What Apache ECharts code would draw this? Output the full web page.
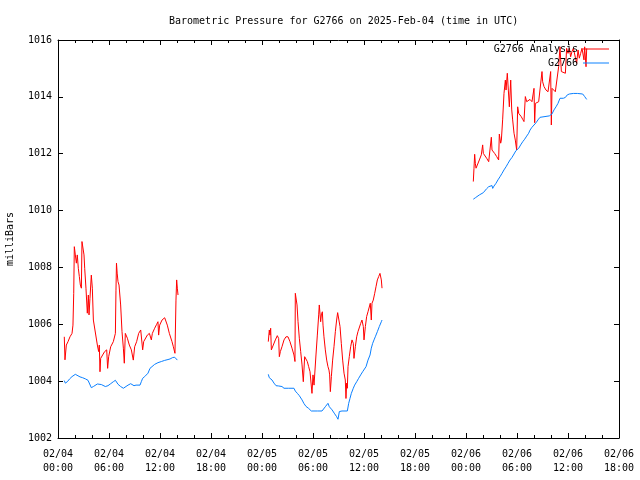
<!DOCTYPE html>
<html>
<head>
<meta charset="utf-8">
<script src="https://cdn.jsdelivr.net/npm/echarts@6/dist/echarts.min.js"></script>
<style>
html,body{margin:0;padding:0;background:#fff;}
#chart{width:640px;height:480px;}
</style>
</head>
<body>
<div id="chart"></div>
<script>
// Hours since 2025-02-04 00:00 UTC, pressure in mb
var xTickLabels = ['02/04\n00:00','02/04\n06:00','02/04\n12:00','02/04\n18:00','02/05\n00:00','02/05\n06:00','02/05\n12:00','02/05\n18:00','02/06\n00:00','02/06\n06:00','02/06\n12:00','02/06\n18:00'];
var yTicks = [1002,1004,1006,1008,1010,1012,1014,1016];

var analysis1 = [[0.74,1005.56],[0.82,1004.75],[0.98,1005.27],[1.18,1005.39],[1.41,1005.56],[1.65,1005.68],[1.76,1005.97],[1.85,1007.09],[1.92,1008.73],[2.04,1008.44],[2.16,1008.15],[2.27,1008.44],[2.39,1007.97],[2.51,1007.68],[2.63,1007.38],[2.75,1007.27],[2.82,1008.91],[2.98,1008.91],[3.06,1008.44],[3.14,1007.97],[3.29,1007.27],[3.45,1006.39],[3.57,1007.03],[3.65,1006.33],[3.76,1006.91],[3.92,1007.73],[4.04,1007.27],[4.16,1006.15],[4.39,1006.09],[4.63,1005.27],[4.78,1005.04],[4.86,1005.27],[4.94,1004.33],[5.02,1004.80],[5.25,1004.92],[5.49,1005.04],[5.73,1005.10],[5.84,1004.45],[5.96,1004.86],[6.2,1005.21],[6.51,1005.39],[6.75,1005.68],[6.82,1007.2],[6.88,1008.15],[6.96,1007.8],[7.06,1007.5],[7.18,1007.38],[7.37,1006.68],[7.53,1005.74],[7.69,1005.16],[7.8,1004.63],[7.92,1005.68],[8.16,1005.51],[8.39,1005.27],[8.63,1005.10],[8.78,1005.04],[8.86,1004.74],[9.02,1005.21],[9.25,1005.39],[9.49,1005.68],[9.73,1005.80],[9.88,1005.80],[9.96,1005.10],[10.08,1005.39],[10.27,1005.45],[10.51,1005.62],[10.75,1005.68],[10.9,1005.72],[10.98,1005.45],[11.1,1005.68],[11.37,1005.86],[11.61,1006.0],[11.76,1006.09],[11.84,1005.62],[11.96,1005.97],[12.24,1006.15],[12.55,1006.23],[12.75,1006.27],[12.86,1005.97],[12.98,1006.03],[13.1,1005.68],[13.25,1005.62],[13.41,1005.39],[13.57,1005.21],[13.76,1004.98],[13.88,1006.85],[13.96,1007.56],[14.04,1007.27],[14.12,1007.03]];
var analysis2 = [[24.74,1005.39],[24.86,1005.80],[24.94,1005.62],[25.02,1005.86],[25.1,1005.10],[25.33,1005.27],[25.57,1005.45],[25.8,1005.60],[25.96,1005.5],[26.04,1004.86],[26.16,1005.04],[26.35,1005.21],[26.59,1005.45],[26.82,1005.56],[27.06,1005.56],[27.29,1005.39],[27.53,1005.16],[27.76,1004.92],[27.88,1004.69],[27.92,1007.09],[28.08,1007.09],[28.12,1006.68],[28.24,1006.09],[28.39,1005.51],[28.55,1005.04],[28.71,1004.57],[28.86,1003.98],[29.02,1004.86],[29.18,1004.86],[29.33,1004.69],[29.49,1004.51],[29.65,1004.33],[29.8,1004.27],[29.88,1003.57],[30.0,1004.22],[30.12,1003.86],[30.35,1004.92],[30.51,1005.62],[30.67,1006.33],[30.74,1006.68],[30.9,1006.09],[30.98,1006.33],[31.1,1006.44],[31.18,1005.97],[31.29,1005.56],[31.45,1005.10],[31.61,1004.74],[31.76,1004.51],[31.88,1004.39],[31.96,1004.22],[32.04,1003.63],[32.16,1004.16],[32.31,1004.74],[32.47,1005.21],[32.63,1005.74],[32.78,1006.15],[32.9,1006.41],[33.06,1006.41],[33.18,1005.92],[33.33,1005.33],[33.49,1004.74],[33.65,1004.28],[33.8,1004.04],[33.88,1003.39],[33.96,1003.93],[34.04,1003.75],[34.12,1004.51],[34.27,1004.86],[34.43,1005.21],[34.59,1005.45],[34.74,1005.33],[34.82,1004.8],[34.98,1005.21],[35.14,1005.56],[35.29,1005.74],[35.45,1005.80],[35.61,1006.03],[35.76,1006.15],[35.92,1005.92],[36.0,1005.45],[36.16,1005.92],[36.31,1006.27],[36.47,1006.44],[36.63,1006.5],[36.74,1006.74],[36.86,1006.15],[36.94,1006.74],[37.09,1006.85],[37.26,1007.09],[37.41,1007.32],[37.57,1007.56],[37.73,1007.68],[37.88,1007.79],[38.04,1007.56],[38.12,1007.27]];
var analysis3 = [[48.86,1011.02],[48.94,1011.49],[49.02,1011.98],[49.1,1011.66],[49.18,1011.49],[49.33,1011.60],[49.57,1011.78],[49.8,1011.96],[49.96,1012.31],[50.04,1012.01],[50.2,1011.96],[50.43,1011.84],[50.67,1011.72],[50.82,1011.69],[50.98,1012.58],[51.06,1012.13],[51.22,1012.13],[51.37,1012.01],[51.61,1011.90],[51.84,1011.78],[51.92,1012.69],[52.08,1012.37],[52.16,1012.48],[52.31,1013.19],[52.47,1014.12],[52.63,1014.59],[52.71,1014.24],[52.86,1014.83],[52.98,1014.24],[53.1,1013.65],[53.26,1014.59],[53.38,1013.54],[53.49,1013.19],[53.65,1012.72],[53.8,1012.48],[53.96,1012.13],[54.08,1013.65],[54.2,1013.42],[54.35,1013.42],[54.51,1013.30],[54.67,1013.21],[54.82,1013.13],[54.98,1014.01],[55.14,1013.83],[55.29,1013.89],[55.53,1013.91],[55.76,1013.83],[56.0,1014.30],[56.08,1013.09],[56.16,1013.77],[56.31,1013.8],[56.55,1013.83],[56.78,1013.83],[56.94,1014.89],[57.02,1014.53],[57.18,1014.36],[57.41,1014.24],[57.65,1014.18],[57.8,1014.24],[57.96,1014.89],[58.04,1013.01],[58.12,1014.30],[58.27,1014.24],[58.51,1014.18],[58.74,1014.24],[58.9,1015.06],[59.06,1015.76],[59.14,1015.30],[59.22,1014.89],[59.45,1014.83],[59.69,1014.83],[59.84,1015.71],[60.0,1015.53],[60.16,1015.71],[60.31,1015.41],[60.47,1015.59],[60.63,1015.71],[60.8,1015.71],[61.02,1015.18],[61.18,1015.65],[61.33,1015.36],[61.49,1015.53],[61.65,1015.71],[61.88,1015.30],[61.96,1015.76],[62.04,1015.7],[62.12,1015.06],[62.2,1015.7]];

var obs1 = [[0.74,1004.02],[0.86,1003.93],[1.1,1003.98],[1.37,1004.08],[1.65,1004.16],[1.88,1004.19],[2.04,1004.24],[2.27,1004.19],[2.59,1004.15],[2.9,1004.12],[3.22,1004.08],[3.53,1004.03],[3.76,1003.98],[3.92,1003.77],[4.16,1003.81],[4.39,1003.86],[4.63,1003.90],[4.86,1003.86],[5.1,1003.88],[5.33,1003.84],[5.57,1003.81],[5.88,1003.84],[6.2,1003.91],[6.51,1003.98],[6.75,1004.03],[6.9,1003.96],[7.06,1003.89],[7.37,1003.81],[7.69,1003.75],[7.92,1003.81],[8.24,1003.86],[8.55,1003.91],[8.78,1003.93],[8.94,1003.84],[9.18,1003.86],[9.41,1003.88],[9.65,1003.86],[9.8,1003.98],[9.96,1004.1],[10.2,1004.16],[10.59,1004.28],[10.82,1004.45],[10.98,1004.51],[11.37,1004.59],[11.76,1004.65],[12.16,1004.69],[12.55,1004.73],[12.78,1004.78],[12.94,1004.76],[13.18,1004.78],[13.49,1004.83],[13.73,1004.84],[13.88,1004.83],[14.04,1004.74]];
var obs2 = [[24.74,1004.24],[24.86,1004.12],[25.02,1004.10],[25.18,1004.04],[25.41,1003.93],[25.65,1003.84],[25.96,1003.83],[26.35,1003.81],[26.59,1003.75],[27.14,1003.75],[27.76,1003.75],[27.92,1003.65],[28.16,1003.57],[28.39,1003.49],[28.71,1003.34],[28.94,1003.21],[29.18,1003.11],[29.49,1003.04],[29.8,1002.95],[30.51,1002.95],[31.06,1002.95],[31.22,1003.02],[31.45,1003.10],[31.76,1003.22],[31.92,1003.10],[32.24,1002.99],[32.55,1002.85],[32.78,1002.75],[32.94,1002.66],[33.1,1002.93],[33.41,1002.95],[34.04,1002.95],[34.2,1003.22],[34.35,1003.39],[34.51,1003.57],[34.74,1003.75],[34.9,1003.86],[35.14,1003.98],[35.37,1004.10],[35.61,1004.22],[35.84,1004.33],[36.0,1004.39],[36.24,1004.51],[36.47,1004.74],[36.71,1004.92],[36.86,1005.16],[37.02,1005.33],[37.18,1005.45],[37.33,1005.56],[37.57,1005.74],[37.8,1005.92],[38.04,1006.09],[38.12,1006.15]];
var obs3 = [[48.86,1010.40],[49.1,1010.45],[49.33,1010.51],[49.57,1010.55],[49.8,1010.57],[50.04,1010.63],[50.2,1010.70],[50.43,1010.77],[50.67,1010.84],[50.9,1010.88],[51.06,1010.88],[51.14,1010.78],[51.29,1010.86],[51.53,1010.96],[51.76,1011.08],[52.0,1011.19],[52.24,1011.31],[52.47,1011.43],[52.71,1011.54],[52.94,1011.66],[53.18,1011.78],[53.41,1011.87],[53.65,1011.99],[53.88,1012.11],[54.04,1012.11],[54.2,1012.19],[54.43,1012.31],[54.67,1012.42],[54.9,1012.51],[55.14,1012.62],[55.37,1012.72],[55.53,1012.83],[55.76,1012.93],[56.0,1013.01],[56.24,1013.09],[56.47,1013.19],[56.71,1013.28],[56.94,1013.33],[57.8,1013.33],[57.96,1013.31],[58.12,1013.40],[58.35,1013.54],[58.59,1013.65],[58.82,1013.77],[59.06,1013.95],[59.22,1014.01],[59.45,1013.95],[59.69,1013.98],[59.92,1014.07],[60.16,1014.10],[60.39,1014.05],[60.63,1014.12],[60.86,1014.15],[61.1,1014.12],[61.33,1014.10],[61.73,1014.10],[61.96,1014.01],[62.2,1013.91]];

function joinSegments(segs){
  var out = [];
  segs.forEach(function(s, i){
    if (i > 0) out.push([s[0][0] - 0.01, '-']);
    out = out.concat(s);
  });
  return out;
}

var FONT = 'DejaVu Sans Mono';
var chart = echarts.init(document.getElementById('chart'), null, {renderer:'canvas'});
var tickStyle = {show:true, inside:true, length:5, lineStyle:{color:'#000', width:1}};
var minorStyle = {show:true, splitNumber:3, length:3, lineStyle:{color:'#000', width:1}};
var lineStyle = {show:true, onZero:false, lineStyle:{color:'#000', width:1}};

chart.setOption({
  animation:false,
  backgroundColor:'#fff',
  title:{
    text:'Barometric Pressure for G2766 on 2025-Feb-04 (time in UTC)',
    left:164, top:11,
    textStyle:{fontFamily:FONT, fontSize:10, fontWeight:'normal', color:'#000'}
  },
  legend:{
    orient:'vertical', right:26, top:38, align:'right',
    icon:'rect', itemWidth:26, itemHeight:1, itemGap:2,
    selectedMode:false,
    textStyle:{fontFamily:FONT, fontSize:10, color:'#000', lineHeight:12},
    data:['G2766 Analysis','G2766']
  },
  grid:{left:58, right:21, top:40, bottom:42, containLabel:false, outerBoundsMode:'none'},
  xAxis:[{
    type:'value', min:0, max:66, interval:6, position:'bottom',
    axisLine:lineStyle, axisTick:tickStyle,
    minorTick:minorStyle,
    splitLine:{show:false},
    axisLabel:{fontFamily:FONT, fontSize:10, color:'#000', margin:9, lineHeight:14,
      formatter:function(v){ return xTickLabels[Math.round(v/6)]; }}
  },{
    type:'value', min:0, max:66, interval:6, position:'top',
    axisLine:lineStyle, axisTick:tickStyle, minorTick:minorStyle,
    splitLine:{show:false}, axisLabel:{show:false}
  }],
  yAxis:[{
    type:'value', min:1002, max:1016, interval:2, position:'left',
    name:'milliBars', nameLocation:'middle', nameGap:43, nameRotate:90,
    nameTextStyle:{fontFamily:FONT, fontSize:10, color:'#000'},
    axisLine:lineStyle, axisTick:tickStyle, splitLine:{show:false},
    axisLabel:{fontFamily:FONT, fontSize:10, color:'#000', margin:6,
      formatter:function(v){ return yTicks.indexOf(v) >= 0 ? String(v) : ''; }}
  },{
    type:'value', min:1002, max:1016, interval:2, position:'right',
    axisLine:lineStyle, axisTick:tickStyle, splitLine:{show:false},
    axisLabel:{show:false}
  }],
  series:[{
    name:'G2766 Analysis', type:'line', xAxisIndex:0, yAxisIndex:0,
    showSymbol:false, symbol:'none', connectNulls:false,
    color:'#ff0000', lineStyle:{color:'#ff0000', width:1}, z:3,
    data:joinSegments([analysis1, analysis2, analysis3])
  },{
    name:'G2766', type:'line', xAxisIndex:0, yAxisIndex:0,
    showSymbol:false, symbol:'none', connectNulls:false,
    color:'#0a80ff', lineStyle:{color:'#0a80ff', width:1}, z:3,
    data:joinSegments([obs1, obs2, obs3])
  }]
});
</script>
</body>
</html>
